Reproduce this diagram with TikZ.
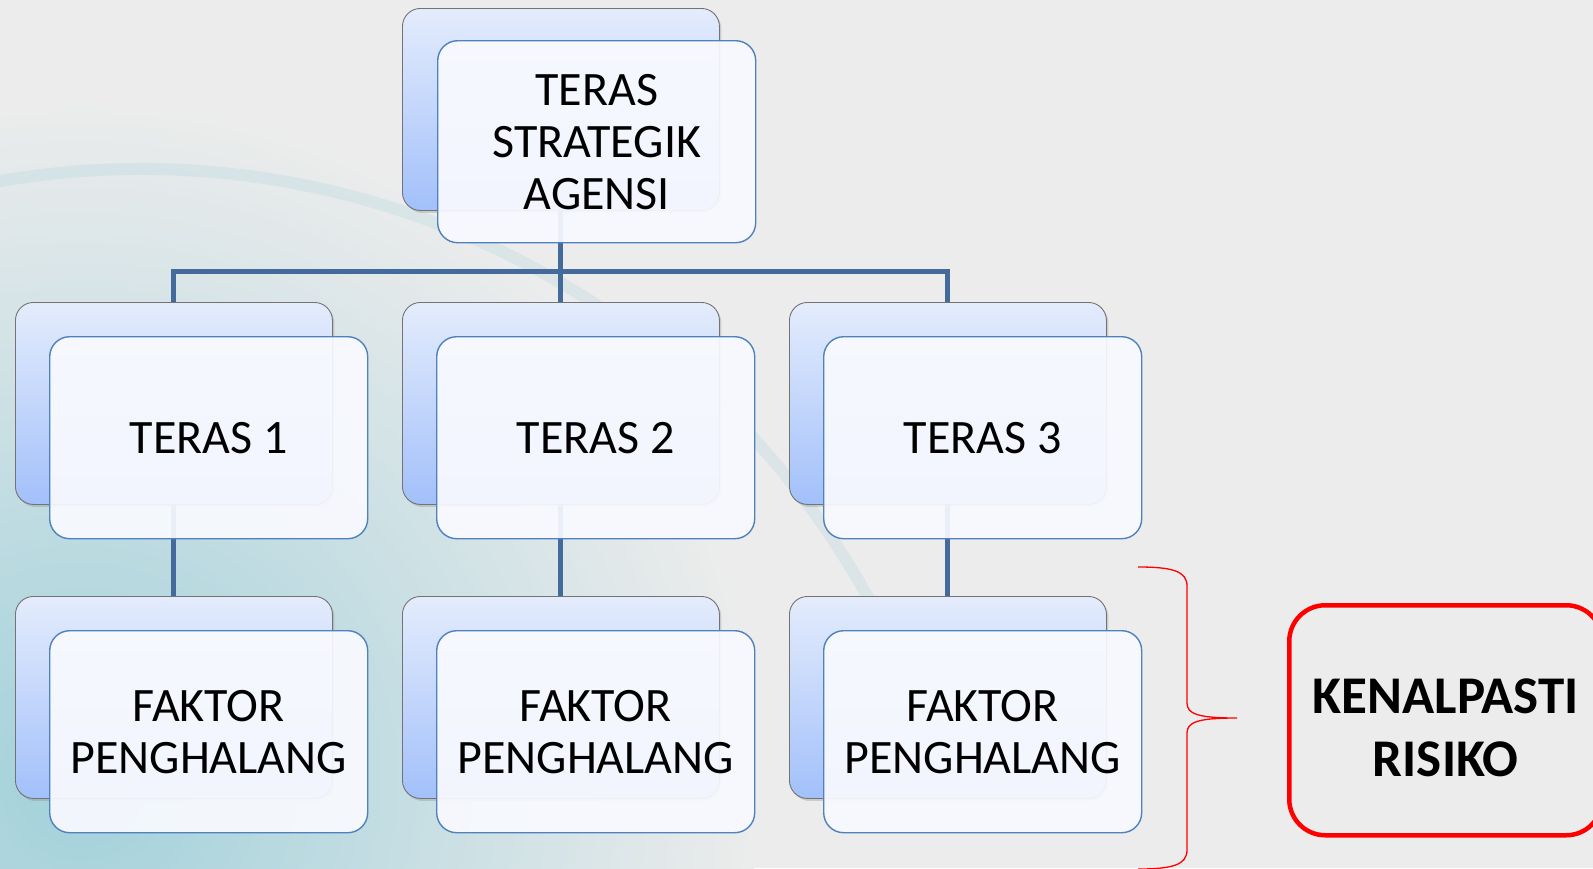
\documentclass[tikz,border=0pt]{standalone}
\usepackage{fontspec}
\setmainfont{Carlito}
\usetikzlibrary{shadows,calc}

\definecolor{bg}{HTML}{ECECEC}
\definecolor{conncol}{HTML}{44699B}
\definecolor{backtop}{HTML}{E4ECFC}
\definecolor{backmid}{HTML}{CFDDFB}
\definecolor{backbot}{HTML}{A2C0FA}
\definecolor{frontfill}{HTML}{F9FAFF}
\definecolor{frontedge}{HTML}{4F81BD}
\definecolor{riskred}{HTML}{FF0000}
\definecolor{swirl}{HTML}{8FCAD6}

\pgfdeclarelayer{bottom}
\pgfdeclarelayer{background}
\pgfsetlayers{bottom,background,main}

\begin{document}
\begin{tikzpicture}[x=1pt,y=-1pt,
  backbox/.style={draw=black!55, line width=0.9pt, rounded corners=18pt,
    minimum width=317pt, minimum height=202pt, anchor=north west, inner sep=0pt,
    top color=backtop, middle color=backmid, bottom color=backbot,
    drop shadow={shadow xshift=2pt, shadow yshift=-2.5pt, opacity=0.3}},
  frontbox/.style={draw=frontedge, line width=1.4pt, rounded corners=20pt,
    fill=frontfill, fill opacity=0.92, text opacity=1,
    minimum width=318pt, minimum height=202pt, anchor=north west, inner sep=0pt,
    align=center, font=\fontsize{48}{52}\selectfont},
  conn/.style={draw=conncol, line width=5pt},
  riskbox/.style={draw=riskred, line width=4.5pt, rounded corners=36pt,
    minimum width=313pt, minimum height=230pt, anchor=north west, inner sep=0pt},
  risklabel/.style={align=center, inner sep=0pt,
    font=\fontsize{53}{63}\selectfont\bfseries},
  bracestyle/.style={draw=riskred, line width=1.3pt}]

% page and faint backdrop
\begin{pgfonlayer}{bottom}
  \fill[bg] (0,0) rectangle (1593,868);
  \begin{scope}
    \clip (0,0) rectangle (1593,868);
    \shade[inner color=swirl!80!bg, outer color=bg] (80,780) circle (680);
    \draw[swirl, line width=12pt, opacity=0.18]
      (141,1000) ++(-101:831) arc[start angle=-101, end angle=-25, radius=831];
  \end{scope}
\end{pgfonlayer}
\useasboundingbox (0,0) rectangle (1593,868);

% back plates
\node[backbox] (b0) at (402,8) {};
\node[backbox] (b1) at (15,302) {};
\node[backbox] (b2) at (402,302) {};
\node[backbox] (b3) at (789,302) {};
\node[backbox] (b4) at (15,596) {};
\node[backbox] (b5) at (402,596) {};
\node[backbox] (b6) at (789,596) {};

% front cards
\node[frontbox] (f0) at (437,40) {TERAS\\STRATEGIK\\AGENSI};
\node[frontbox] (f1) at (49,336) {TERAS 1};
\node[frontbox] (f2) at (436,336) {TERAS 2};
\node[frontbox] (f3) at (823,336) {TERAS 3};
\node[frontbox] (f4) at (49,630) {FAKTOR\\PENGHALANG};
\node[frontbox] (f5) at (436,630) {FAKTOR\\PENGHALANG};
\node[frontbox] (f6) at (823,630) {FAKTOR\\PENGHALANG};

% hierarchy connectors
\begin{pgfonlayer}{background}
  \coordinate (bus) at ($(b0.south)+(0,61)$);
  \draw[conn] (b0.south) -- (bus);
  \draw[conn] (b1.north) |- (bus) -| (b3.north);
  \draw[conn] (bus) -- (b2.north);
  \draw[conn] (b1.south) -- (b4.north);
  \draw[conn] (b2.south) -- (b5.north);
  \draw[conn] (b3.south) -- (b6.north);
\end{pgfonlayer}

% brace and risk box
\coordinate (bt) at (1138,567);
\coordinate (bb) at (1138,869);
\coordinate (tip) at (1237,718);
\draw[bracestyle] (bt) .. controls (1172,567) and (1187,571) .. (1187,586)
  -- (1187,703) .. controls (1187,714) and (1198,718) .. (tip)
  .. controls (1198,718) and (1187,722) .. (1187,733)
  -- (1187,850) .. controls (1187,865) and (1172,869) .. (bb);

\node[riskbox] (risk) at (1287,603) {};
\node[risklabel] (risktext) at ($(risk.center)+(0,8)$) {KENALPASTI\\RISIKO};

\end{tikzpicture}
\end{document}
